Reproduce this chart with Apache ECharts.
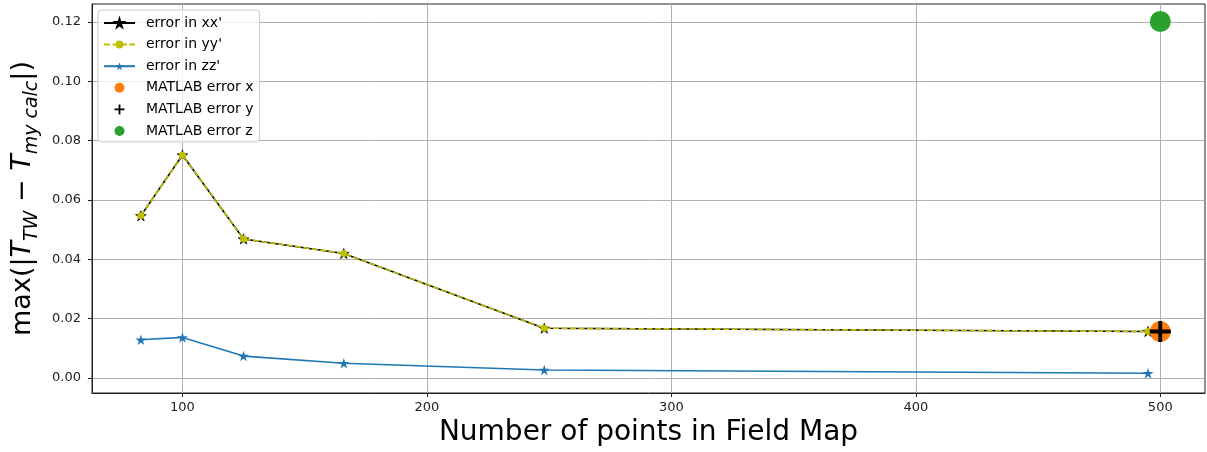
<!DOCTYPE html>
<html>
<head>
<meta charset="utf-8">
<script src="https://cdn.jsdelivr.net/npm/echarts@6/dist/echarts.min.js"></script>
<style>
  html, body { margin: 0; padding: 0; background: #fff; }
  #chart { width: 1207px; height: 452px; }
</style>
</head>
<body>
<div id="chart"></div>
<script>
// Number of points in the field map for each run
const fieldPoints = [83, 100, 125, 166, 248, 495];

// Maximum absolute transfer-matrix error per run
const errXX = [0.0547, 0.0752, 0.0469, 0.0420, 0.0168, 0.0157];
const errYY = [0.0547, 0.0752, 0.0469, 0.0420, 0.0168, 0.0157];
const errZZ = [0.0129, 0.0137, 0.0074, 0.0050, 0.0027, 0.0016];

// MATLAB reference errors at 500 points
const matlabPoints = 500;
const matlabErrX = 0.0157;
const matlabErrY = 0.0157;
const matlabErrZ = 0.1202;

// Tick labels
const xTicks = [100, 200, 300, 400, 500];
const yTicks = [0.00, 0.02, 0.04, 0.06, 0.08, 0.10, 0.12];

// Five-point star marker
function starPath() {
  const pts = [];
  for (let i = 0; i < 10; i++) {
    const r = i % 2 === 0 ? 1 : 0.38;
    const a = -Math.PI / 2 + i * Math.PI / 5;
    pts.push((r * Math.cos(a)).toFixed(4) + ',' + (r * Math.sin(a)).toFixed(4));
  }
  return 'path://M' + pts.join(' L') + ' Z';
}
const STAR = starPath();
// Thick "+" marker
const PLUS = 'path://M-1,-5.5 L1,-5.5 L1,-1 L5.5,-1 L5.5,1 L1,1 L1,5.5 L-1,5.5 L-1,1 L-5.5,1 L-5.5,-1 L-1,-1 Z';

const FONT = 'DejaVu Sans';
const zip = (xs, ys) => xs.map((x, i) => [x, ys[i]]);

const chart = echarts.init(document.getElementById('chart'), null, { renderer: 'canvas' });

chart.setOption({
  animation: false,
  backgroundColor: '#fff',
  grid: {
    left: 92, right: 2, top: 4, bottom: 58,
    show: true, borderColor: '#222', borderWidth: 1, backgroundColor: 'transparent'
  },
  legend: {
    orient: 'vertical',
    left: 98, top: 10,
    padding: [6, 6, 4, 5],
    itemWidth: 31, itemHeight: 10, itemGap: 7.6,
    backgroundColor: 'rgba(255,255,255,0.8)',
    borderColor: '#cccccc', borderWidth: 1, borderRadius: 3,
    textStyle: { fontFamily: FONT, fontSize: 14, lineHeight: 14, color: '#000', padding: [0, 0, 0, 6] },
    data: ["error in xx'", "error in yy'", "error in zz'", 'MATLAB error x', 'MATLAB error y', 'MATLAB error z']
  },
  xAxis: {
    type: 'value',
    min: 63, max: 518.3,
    splitNumber: 5,
    name: 'Number of points in Field Map',
    nameLocation: 'middle',
    nameGap: 26,
    nameTextStyle: { fontFamily: FONT, fontSize: 28, color: '#000', verticalAlign: 'top' },
    axisLine: { show: true, onZero: false, lineStyle: { color: '#222', width: 1 } },
    axisTick: { show: true, inside: false, length: 4, lineStyle: { color: '#222' }, customValues: xTicks },
    axisLabel: { fontFamily: FONT, fontSize: 13, color: '#222', margin: 8, customValues: xTicks },
    splitLine: { show: true, lineStyle: { color: '#b0b0b0', width: 1 } }
  },
  yAxis: {
    type: 'value',
    min: -0.00504, max: 0.1261,
    splitNumber: 6,
    name: '{a|max(|}{i|T}{s|TW}{a| − }{i|T}{s|my calc}{a||)}',
    nameLocation: 'middle',
    nameRotate: 90,
    nameGap: 49,
    nameTextStyle: {
      fontFamily: FONT, color: '#000',
      rich: {
        a: { fontFamily: FONT, fontSize: 27, color: '#000', lineHeight: 36, verticalAlign: 'middle' },
        i: { fontFamily: FONT, fontSize: 27, fontStyle: 'italic', color: '#000', lineHeight: 36, verticalAlign: 'middle' },
        s: { fontFamily: FONT, fontSize: 19, fontStyle: 'italic', color: '#000', lineHeight: 19, verticalAlign: 'bottom' }
      }
    },
    axisLine: { show: true, onZero: false, lineStyle: { color: '#222', width: 1 } },
    axisTick: { show: true, inside: false, length: 4, lineStyle: { color: '#222' }, customValues: yTicks },
    axisLabel: {
      fontFamily: FONT, fontSize: 13, color: '#222', margin: 11, customValues: yTicks,
      formatter: v => v.toFixed(2)
    },
    splitLine: { show: true, lineStyle: { color: '#b0b0b0', width: 1 } }
  },
  series: [
    {
      name: "error in xx'",
      type: 'line',
      data: zip(fieldPoints, errXX),
      symbol: STAR, symbolSize: 11, symbolKeepAspect: true,
      showAllSymbol: true,
      lineStyle: { color: '#000', width: 1.6 },
      itemStyle: { color: '#000', borderColor: '#000', borderWidth: 0.5 },
      z: 2
    },
    {
      name: "error in yy'",
      type: 'line',
      data: zip(fieldPoints, errYY),
      symbol: 'circle', symbolSize: 7,
      showAllSymbol: true,
      lineStyle: { color: '#bfbf00', width: 1.6, type: [6, 2.5] },
      itemStyle: { color: '#bfbf00', borderWidth: 0 },
      z: 3
    },
    {
      name: "error in zz'",
      type: 'line',
      data: zip(fieldPoints, errZZ),
      symbol: STAR, symbolSize: 11, symbolKeepAspect: true,
      showAllSymbol: true,
      lineStyle: { color: '#1f77b4', width: 1.6 },
      itemStyle: { color: '#1f77b4', borderWidth: 0 },
      z: 4
    },
    {
      name: 'MATLAB error x',
      type: 'scatter',
      data: [[matlabPoints, matlabErrX]],
      symbol: 'circle', symbolSize: 21,
      itemStyle: { color: '#ff7f0e', opacity: 1 },
      z: 5
    },
    {
      name: 'MATLAB error y',
      type: 'scatter',
      data: [[matlabPoints, matlabErrY]],
      symbol: PLUS, symbolSize: 21,
      itemStyle: { color: '#000', opacity: 1 },
      z: 6
    },
    {
      name: 'MATLAB error z',
      type: 'scatter',
      data: [[matlabPoints, matlabErrZ]],
      symbol: 'circle', symbolSize: 21,
      itemStyle: { color: '#2ca02c', opacity: 1 },
      z: 7
    }
  ]
});
</script>
</body>
</html>
